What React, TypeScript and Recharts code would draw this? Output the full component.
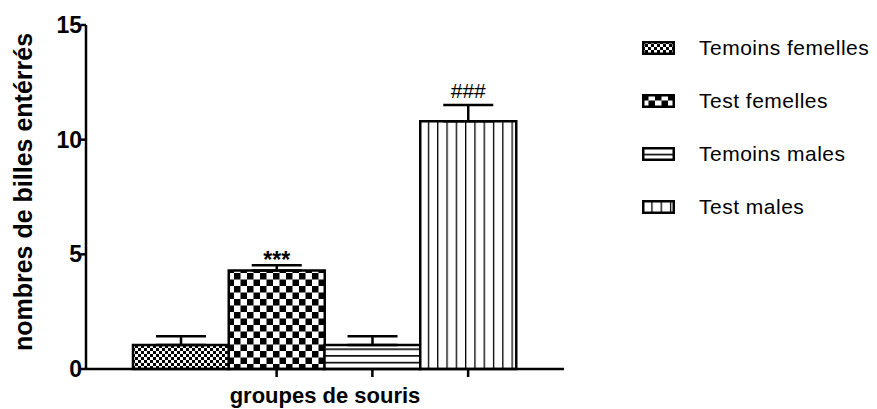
import React from 'react';
import { BarChart, Bar, XAxis, YAxis, ErrorBar, Cell, LabelList } from 'recharts';

const categories = ['Temoins femelles', 'Test femelles', 'Temoins males', 'Test males'];
const means = [1.05, 4.3, 1.05, 10.8];
const errs = [0.38, 0.22, 0.38, 0.71];
const sigLabels = ['', '***', '', '###'];
const yTicks = [0, 5, 10, 15];

const data = categories.map((name, i) => ({
  name,
  value: means[i],
  err: [0, errs[i]],
  sig: sigLabels[i],
}));

const FONT = '"Liberation Sans", Arial, sans-serif';

const Patterns = () => (
  <svg width={0} height={0} style={{ position: 'absolute' }}>
    <defs>
      <pattern id="p0" patternUnits="userSpaceOnUse" width={6} height={6}>
        <rect x={0} y={0} width={6} height={6} fill="#fff" />
        <rect x={0} y={0} width={3} height={3} fill="#000" />
        <rect x={3} y={3} width={3} height={3} fill="#000" />
      </pattern>
      <pattern id="p1" patternUnits="userSpaceOnUse" width={13} height={13}>
        <rect x={0} y={0} width={13} height={13} fill="#fff" />
        <rect x={0} y={0} width={6.5} height={6.5} fill="#000" />
        <rect x={6.5} y={6.5} width={6.5} height={6.5} fill="#000" />
      </pattern>
      <pattern id="p2" patternUnits="userSpaceOnUse" width={10} height={6.7}>
        <rect x={0} y={0} width={10} height={6.7} fill="#fff" />
        <rect x={0} y={0} width={10} height={1.6} fill="#000" />
      </pattern>
      <pattern id="p3" patternUnits="userSpaceOnUse" width={9.3} height={10}>
        <rect x={0} y={0} width={9.3} height={10} fill="#fff" />
        <rect x={0} y={0} width={1.3} height={10} fill="#000" />
      </pattern>
    </defs>
  </svg>
);

const SigLabel = (props: any) => {
  const { x, y, width, height, value, index } = props;
  if (!value) return null;
  const pxPerUnit = height / means[index];
  const capY = y - errs[index] * pxPerUnit;
  const cx = x + width / 2;
  if (value === '###') {
    return (
      <text x={cx} y={capY - 7} textAnchor="middle" fontFamily={FONT} fontSize={21} fill="#000">
        {value}
      </text>
    );
  }
  return (
    <text x={cx} y={capY + 3} textAnchor="middle" fontFamily={FONT} fontSize={23} fontWeight="bold" fill="#000">
      {value}
    </text>
  );
};

const Legend = () => (
  <div style={{ position: 'absolute', left: 642, top: 21, fontFamily: FONT, fontSize: 21, letterSpacing: 0.5, color: '#000' }}>
    {categories.map((c, i) => (
      <div key={c} style={{ display: 'flex', alignItems: 'center', height: 53 }}>
        <svg width={33} height={14} style={{ display: 'block' }}>
          <rect x={1.25} y={1.25} width={30.5} height={11.5} fill={`url(#p${i})`} stroke="#000" strokeWidth={2.5} />
        </svg>
        <span style={{ marginLeft: 24, whiteSpace: 'nowrap' }}>{c}</span>
      </div>
    ))}
  </div>
);

export default function App() {
  return (
    <div style={{ position: 'absolute', left: 0, top: 0, width: 877, height: 409, background: '#fff' }}>
      <Patterns />
      <BarChart
        width={877}
        height={409}
        data={data}
        margin={{ top: 25, right: 313, left: 0, bottom: 0 }}
        barCategoryGap={0}
        barGap={0}
      >
        <XAxis
          dataKey="name"
          height={40}
          padding={{ left: 47, right: 48 }}
          axisLine={{ stroke: '#000', strokeWidth: 2.5 }}
          tickLine={{ stroke: '#000', strokeWidth: 2.5 }}
          tickSize={8}
          tick={() => <g />}
          label={{
            content: (p: any) => {
              const vb = p.viewBox;
              return (
                <text x={vb.x + vb.width / 2} y={vb.y + 34} textAnchor="middle" fontFamily={FONT} fontSize={22} fontWeight="bold" fill="#000">
                  groupes de souris
                </text>
              );
            },
          }}
        />
        <YAxis
          width={86}
          domain={[0, 15]}
          ticks={yTicks}
          interval={0}
          axisLine={{ stroke: '#000', strokeWidth: 2.5 }}
          tickLine={{ stroke: '#000', strokeWidth: 2.5 }}
          tickSize={5}
          tickMargin={-1}
          tick={{ fill: '#000', fontSize: 23, fontWeight: 'bold', fontFamily: FONT }}
          label={{
            content: (p: any) => {
              const vb = p.viewBox;
              const lx = 32;
              const ly = vb.y + vb.height / 2 - 5;
              return (
                <text x={lx} y={ly} transform={`rotate(-90, ${lx}, ${ly})`} textAnchor="middle" fontFamily={FONT} fontSize={25} fontWeight="bold" fill="#000">
                  nombres de billes entérrés
                </text>
              );
            },
          }}
        />
        <Bar dataKey="value" stroke="#000" strokeWidth={2.5} isAnimationActive={false}>
          {data.map((d, i) => (
            <Cell key={d.name} fill={`url(#p${i})`} />
          ))}
          <ErrorBar dataKey="err" direction="y" width={25} stroke="#000" strokeWidth={2.5} />
          <LabelList dataKey="sig" content={SigLabel} />
        </Bar>
      </BarChart>
      <Legend />
    </div>
  );
}
